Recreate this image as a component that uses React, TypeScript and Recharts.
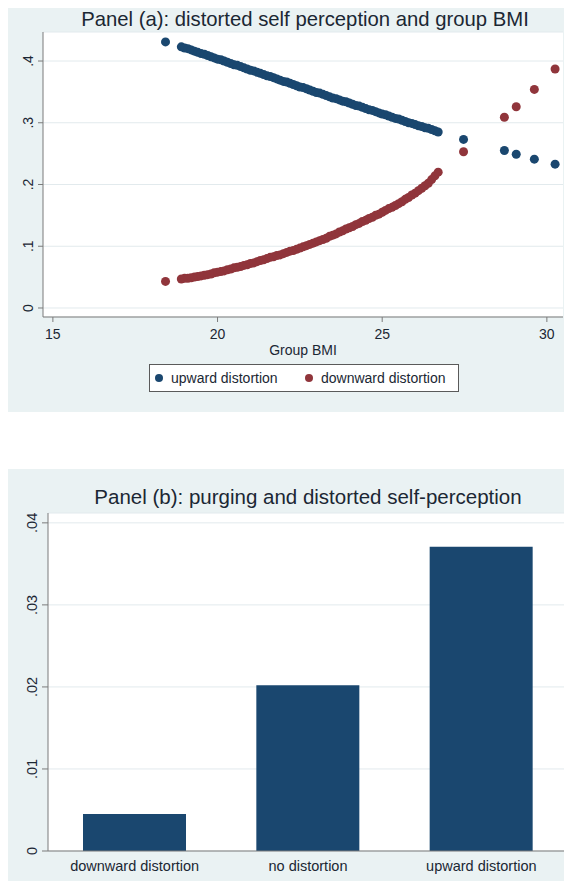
import React from "react";
import { Bar, BarChart, CartesianGrid, Label, Scatter, ScatterChart, XAxis, YAxis } from "recharts";

const FONT = '"Liberation Sans", Arial, sans-serif';
const BLUE = "#1a476f";
const RED = "#90353b";
const PANEL_BG = "#eaf2f3";
const GRID = "#e2eaed";
const AXIS = "#7b7b7b";
const INK = "#1b2733";

// panel (a): predicted probability of distortion by group BMI (dense part of the cloud)
const fitBmi = [
  18.9, 19.0, 19.1, 19.2, 19.3, 19.4, 19.5, 19.6, 19.7, 19.8, 19.9,
  20.0, 20.1, 20.2, 20.3, 20.4, 20.5, 20.6, 20.7, 20.8, 20.9,
  21.0, 21.1, 21.2, 21.3, 21.4, 21.5, 21.6, 21.7, 21.8, 21.9,
  22.0, 22.1, 22.2, 22.3, 22.4, 22.5, 22.6, 22.7, 22.8, 22.9,
  23.0, 23.1, 23.2, 23.3, 23.4, 23.5, 23.6, 23.7, 23.8, 23.9,
  24.0, 24.1, 24.2, 24.3, 24.4, 24.5, 24.6, 24.7, 24.8, 24.9,
  25.0, 25.1, 25.2, 25.3, 25.4, 25.5, 25.6, 25.7, 25.8, 25.9,
  26.0, 26.1, 26.2, 26.3, 26.4, 26.5, 26.6, 26.7,
];
const upwardFit = [
  0.423, 0.421, 0.42, 0.418, 0.416, 0.414, 0.412, 0.411, 0.409, 0.407, 0.405,
  0.403, 0.402, 0.4, 0.398, 0.396, 0.394, 0.393, 0.391, 0.389, 0.387,
  0.385, 0.384, 0.382, 0.38, 0.378, 0.376, 0.375, 0.373, 0.371, 0.369,
  0.367, 0.366, 0.364, 0.362, 0.36, 0.358, 0.357, 0.355, 0.353, 0.351,
  0.349, 0.348, 0.346, 0.344, 0.342, 0.34, 0.339, 0.337, 0.335, 0.334,
  0.332, 0.33, 0.328, 0.327, 0.325, 0.323, 0.321, 0.32, 0.318, 0.316,
  0.314, 0.313, 0.311, 0.309, 0.307, 0.306, 0.304, 0.302, 0.3, 0.299,
  0.297, 0.295, 0.294, 0.292, 0.291, 0.289, 0.287, 0.285,
];
const downwardFit = [
  0.047, 0.048, 0.048, 0.049, 0.05, 0.051, 0.052, 0.053, 0.054, 0.055, 0.057,
  0.058, 0.059, 0.06, 0.062, 0.063, 0.065, 0.066, 0.067, 0.069, 0.07,
  0.072, 0.073, 0.075, 0.077, 0.078, 0.08, 0.082, 0.083, 0.085, 0.086,
  0.088, 0.09, 0.092, 0.093, 0.095, 0.097, 0.099, 0.101, 0.103, 0.105,
  0.107, 0.109, 0.111, 0.113, 0.116, 0.118, 0.12, 0.123, 0.125, 0.128,
  0.13, 0.132, 0.135, 0.137, 0.14, 0.142, 0.145, 0.147, 0.15, 0.152,
  0.155, 0.158, 0.161, 0.163, 0.166, 0.169, 0.172, 0.176, 0.179, 0.183,
  0.186, 0.19, 0.194, 0.198, 0.202, 0.208, 0.214, 0.22,
];
// isolated groups at both ends
const edgeBmi = [18.42, 27.47, 28.71, 29.07, 29.62, 30.25];
const upwardEdge = [0.431, 0.273, 0.255, 0.249, 0.241, 0.233];
const downwardEdge = [0.043, 0.253, 0.309, 0.326, 0.354, 0.387];
const bmiTicks = [15, 20, 25, 30];
const shareTicks = [0, 0.1, 0.2, 0.3, 0.4];

// panel (b): share purging by distortion group
const distortionGroups = ["downward distortion", "no distortion", "upward distortion"];
const purgingRate = [0.0045, 0.0202, 0.0371];
const purgingTicks = [0, 0.01, 0.02, 0.03, 0.04];

const toPoints = (xs: number[], ys: number[]) => xs.map((x, i) => ({ x, y: ys[i] }));
const upwardPoints = toPoints(fitBmi, upwardFit).concat(toPoints(edgeBmi, upwardEdge));
const downwardPoints = toPoints(fitBmi, downwardFit).concat(toPoints(edgeBmi, downwardEdge));
const barRows = distortionGroups.map((name, i) => ({ name, rate: purgingRate[i] }));

// stata drops the leading zero: .1, .02 ...
const stataNum = (v: number) => (v === 0 ? "0" : String(v).replace(/^0\./, "."));

function SideTick(props: any) {
  const { x, y, payload, size } = props;
  return (
    <text
      x={x}
      y={y}
      transform={`rotate(-90 ${x} ${y})`}
      textAnchor="middle"
      fontSize={size}
      fontFamily={FONT}
      fill={INK}
    >
      {stataNum(payload.value)}
    </text>
  );
}

const dot = (color: string) => (p: any) => <circle cx={p.cx} cy={p.cy} r={4.5} fill={color} />;

function LegendItem({ color, left, label }: { color: string; left: number; label: string }) {
  return (
    <>
      <span
        style={{
          position: "absolute",
          left,
          top: 9,
          width: 8,
          height: 8,
          borderRadius: "50%",
          background: color,
        }}
      />
      <span style={{ position: "absolute", left: left + 16, top: 5 }}>{label}</span>
    </>
  );
}

function PanelA() {
  return (
    <div style={{ position: "absolute", left: 5, top: 8, width: 567, height: 404, background: PANEL_BG }}>
      <div
        style={{
          position: "absolute",
          top: 1,
          width: 600,
          textAlign: "center",
          fontFamily: FONT,
          fontSize: 20.3,
          lineHeight: "20px",
          color: INK,
          whiteSpace: "nowrap",
        }}
      >
        Panel (a): distorted self perception and group BMI
      </div>
      <ScatterChart width={567} height={404} margin={{ top: 24, right: 9, bottom: 50, left: 8 }}>
        <CartesianGrid vertical={false} stroke={GRID} fill="#fff" />
        <XAxis
          type="number"
          dataKey="x"
          domain={[14.7, 30.49]}
          ticks={bmiTicks}
          height={45}
          tickSize={5}
          tickMargin={7}
          stroke={AXIS}
          tick={{ fill: INK, fontSize: 14, fontFamily: FONT }}
        >
          <Label value="Group BMI" position="insideBottom" offset={7} fill={INK} fontSize={14} fontFamily={FONT} />
        </XAxis>
        <YAxis
          type="number"
          dataKey="y"
          domain={[-0.0146, 0.447]}
          ticks={shareTicks}
          width={30}
          tickSize={5}
          tickMargin={5}
          stroke={AXIS}
          tick={<SideTick size={14} />}
        />
        <Scatter name="upward distortion" data={upwardPoints} shape={dot(BLUE)} isAnimationActive={false} />
        <Scatter name="downward distortion" data={downwardPoints} shape={dot(RED)} isAnimationActive={false} />
      </ScatterChart>
      <div
        style={{
          position: "absolute",
          left: 144,
          top: 356,
          width: 308,
          height: 26,
          border: "1px solid #5a5a5a",
          background: "#fff",
          fontFamily: FONT,
          fontSize: 14,
          color: INK,
        }}
      >
        <LegendItem color={BLUE} left={5} label="upward distortion" />
        <LegendItem color={RED} left={155} label="downward distortion" />
      </div>
    </div>
  );
}

function PanelB() {
  return (
    <div style={{ position: "absolute", left: 5, top: 469, width: 567, height: 412, background: PANEL_BG }}>
      <div
        style={{
          position: "absolute",
          top: 18,
          width: 606,
          textAlign: "center",
          fontFamily: FONT,
          fontSize: 20.5,
          lineHeight: "20px",
          color: INK,
          whiteSpace: "nowrap",
        }}
      >
        Panel (b): purging and distorted self-perception
      </div>
      <BarChart
        width={567}
        height={412}
        data={barRows}
        margin={{ top: 44, right: 4, bottom: 0, left: 5 }}
        barSize={103}
      >
        <CartesianGrid vertical={false} stroke={GRID} fill="#fff" />
        <XAxis
          dataKey="name"
          height={30}
          tickLine={false}
          tickSize={0}
          tickMargin={10}
          stroke={AXIS}
          tick={{ fill: INK, fontSize: 14.5, fontFamily: FONT }}
        />
        <YAxis
          type="number"
          domain={[0, 0.0412]}
          ticks={purgingTicks}
          width={38}
          tickSize={6}
          tickMargin={5}
          stroke={AXIS}
          tick={<SideTick size={14.5} />}
        />
        <Bar dataKey="rate" fill={BLUE} isAnimationActive={false} />
      </BarChart>
    </div>
  );
}

export default function App() {
  return (
    <div style={{ position: "relative", width: 564, height: 873 }}>
      <div style={{ position: "absolute", left: -8, top: -8, width: 572, height: 881 }}>
        <PanelA />
        <PanelB />
      </div>
    </div>
  );
}
